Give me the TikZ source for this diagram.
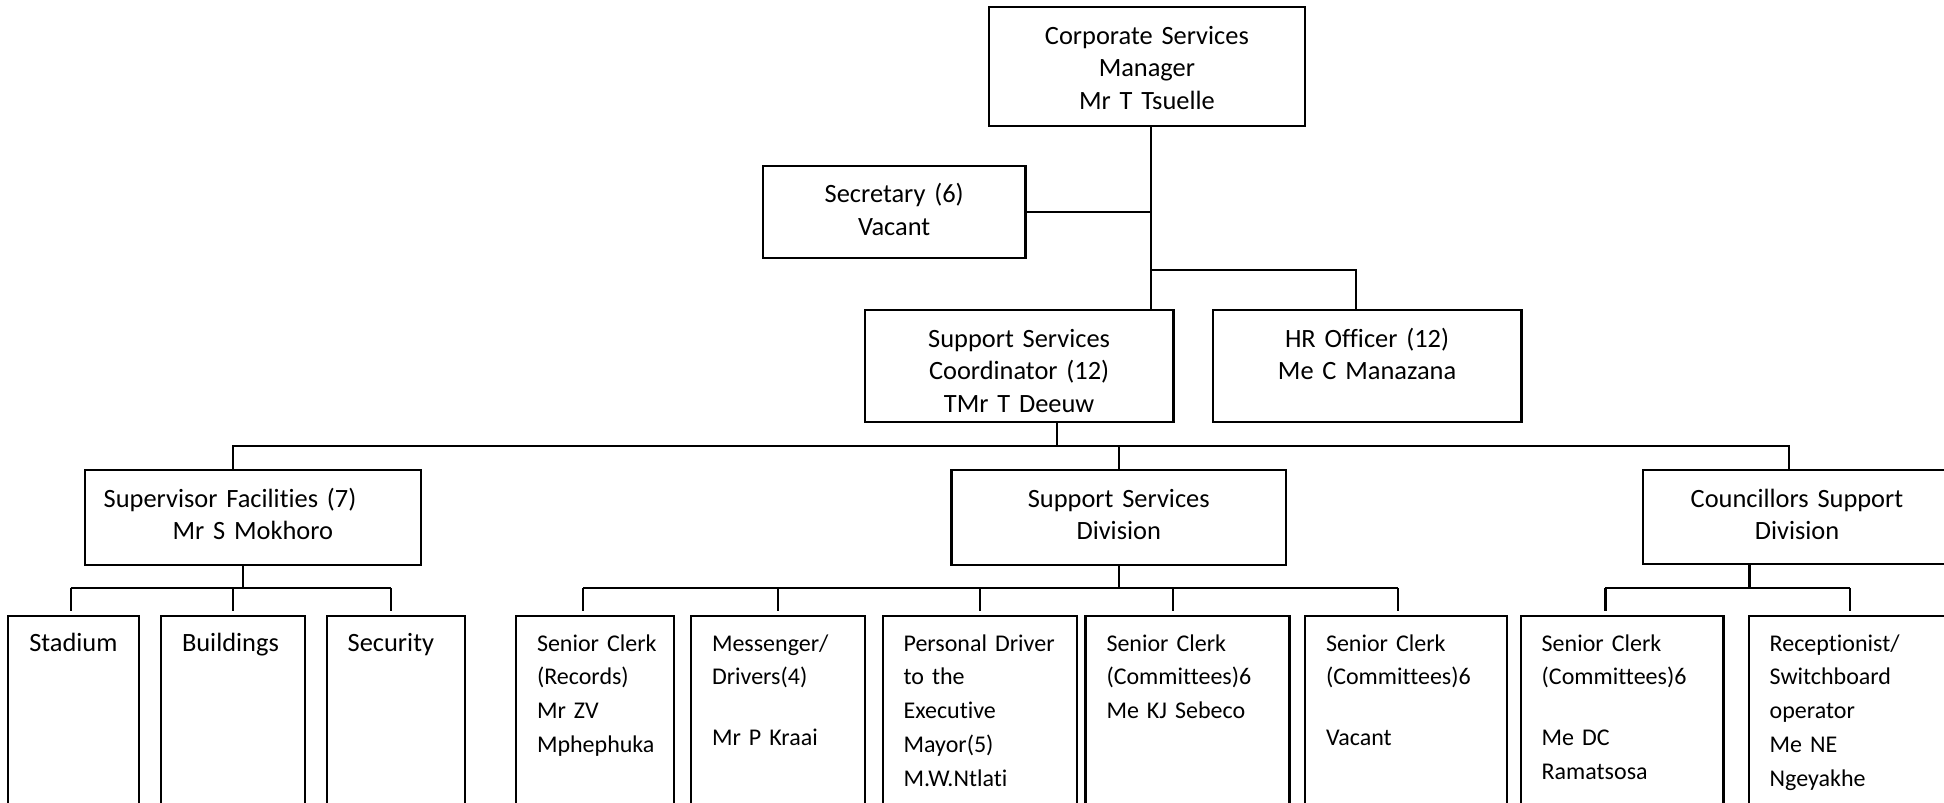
\documentclass[tikz,border=0pt]{standalone}
\usepackage{fontspec}
\setmainfont{Carlito}[Ligatures=NoCommon]
\tikzset{
  post/.style={draw, line width=1.1pt, anchor=north west, inner xsep=0pt, inner ysep=0pt,
    outer sep=0pt, align=center, text height=18.5pt, font=\fontsize{13.2}{16.25}\selectfont},
  staff/.style={post, align=left, inner xsep=10.5pt, text height=17.5pt, text depth=92.5pt,
    font=\fontsize{12}{16.9}\selectfont},
  unit/.style={staff, font=\fontsize{13.2}{16.9}\selectfont},
  link/.style={line width=1.1pt},
}
\begin{document}
\begin{tikzpicture}[x=0.5pt, y=-0.5pt]
  \useasboundingbox (0,0) rectangle (1944,803);
  \clip (0,0) rectangle (1944,803);

  % manager and direct posts
  \node[post, text width=158.1pt, text depth=40.85pt] (corpmgr) at (988.8,7.3)
    {Corporate Services\\Manager\\Mr T Tsuelle};
  \node[post, text width=131.35pt, text depth=27.8pt] (secretary) at (762.8,165.7)
    {Secretary (6)\\Vacant};
  \node[post, text width=154.35pt, text depth=37.5pt] (coordinator) at (864.8,310)
    {Support Services\\Coordinator (12)\\TMr T Deeuw};
  \node[post, text width=154.35pt, text depth=37.5pt] (hrofficer) at (1212.7,310)
    {HR Officer (12)\\Me C Manazana};

  % divisions
  \node[post, text width=168.15pt, text depth=29pt] (supfac) at (84.7,470)
    {Supervisor Facilities (7)\hspace{22.8pt}\mbox{}\\Mr S Mokhoro};
  \node[post, text width=167.25pt, text depth=29pt] (suppdiv) at (951.5,470)
    {Support Services\\Division};
  \node[post, text width=154pt, text depth=28.5pt] (councdiv) at (1643,470)
    {Councillors Support\\Division};

  % staff
  \node[unit, text width=44.35pt] (stadium) at (8.3,616) {Stadium};
  \node[unit, text width=51pt] (buildings) at (161,616) {Buildings};
  \node[unit, text width=48.15pt] (security) at (326.7,616) {Security};
  \node[staff, text width=58pt] (screcords) at (516,616)
    {Senior~Clerk\\(Records)\\Mr~ZV\\Mphephuka};
  \node[staff, text width=66pt] (messenger) at (691,616)
    {Messenger/\\Drivers(4)\\[13.6pt]Mr~P~Kraai};
  \node[staff, text width=76.2pt] (persdriver) at (882.6,616)
    {Personal~Driver\\to~the\\Executive\\Mayor(5)\\M.W.Ntlati};
  \node[staff, text width=81pt] (scsebeco) at (1085.5,616)
    {Senior~Clerk\\(Committees)6\\Me~KJ~Sebeco};
  \node[staff, text width=80pt] (scvacant) at (1305,616)
    {Senior~Clerk\\(Committees)6\\[13.6pt]Vacant};
  \node[staff, text width=80.35pt] (scramatsosa) at (1520.7,616)
    {Senior~Clerk\\(Committees)6\\[13.6pt]Me~DC\\Ramatsosa};
  \node[staff, text width=80pt] (reception) at (1748.7,616)
    {Receptionist/\\Switchboard\\operator\\Me~NE\\Ngeyakhe};

  % top links
  \coordinate (spine) at ([xshift=2.2pt]corpmgr.south);
  \coordinate (hrbus) at (0,270);
  \coordinate (bus1) at (0,446);
  \coordinate (bus2) at (0,588);
  \draw[link] (spine) -- (spine |- coordinator.north);
  \draw[link] (secretary.east) -- (secretary.east -| spine);
  \draw[link] (spine |- hrbus) -| ([xshift=-5.7pt]hrofficer.north);

  % coordinator to divisions
  \draw[link] ([xshift=19pt]coordinator.south) -- ([xshift=19pt]coordinator.south |- bus1);
  \draw[link] ([xshift=-9.9pt]supfac.north) |- ([xshift=-4pt]councdiv.north |- bus1)
    -- ([xshift=-4pt]councdiv.north);
  \draw[link] (suppdiv.north) -- (suppdiv.north |- bus1);

  % facilities
  \draw[link] ([xshift=-5pt]supfac.south) -- ([xshift=-5pt]supfac.south |- bus2);
  \draw[link] ([xshift=-1.5pt]stadium.north |- bus2) -- ([xshift=-2.4pt]security.north |- bus2);
  \foreach \kid/\dx in {stadium/-1.5pt, buildings/0pt, security/-2.4pt}
    \draw[link] ([xshift=\dx]\kid.north |- bus2) -- ([xshift=\dx, yshift=2.7pt]\kid.north);

  % support services
  \draw[link] (suppdiv.south) -- (suppdiv.south |- bus2);
  \draw[link] ([xshift=-6pt]screcords.north |- bus2) -- ([xshift=-4pt]scvacant.north |- bus2);
  \foreach \kid/\dx in {screcords/-6pt, messenger/0pt, persdriver/0pt, scsebeco/-7.4pt, scvacant/-4pt}
    \draw[link] ([xshift=\dx]\kid.north |- bus2) -- ([xshift=\dx, yshift=2.7pt]\kid.north);

  % councillors support
  \draw[link] ([xshift=-23.8pt]councdiv.south) -- ([xshift=-23.8pt]councdiv.south |- bus2);
  \draw[link] ([xshift=-8.3pt]scramatsosa.north |- bus2) -- (reception.north |- bus2);
  \foreach \kid/\dx in {scramatsosa/-8.3pt, reception/0pt}
    \draw[link] ([xshift=\dx]\kid.north |- bus2) -- ([xshift=\dx, yshift=2.7pt]\kid.north);
\end{tikzpicture}
\end{document}
